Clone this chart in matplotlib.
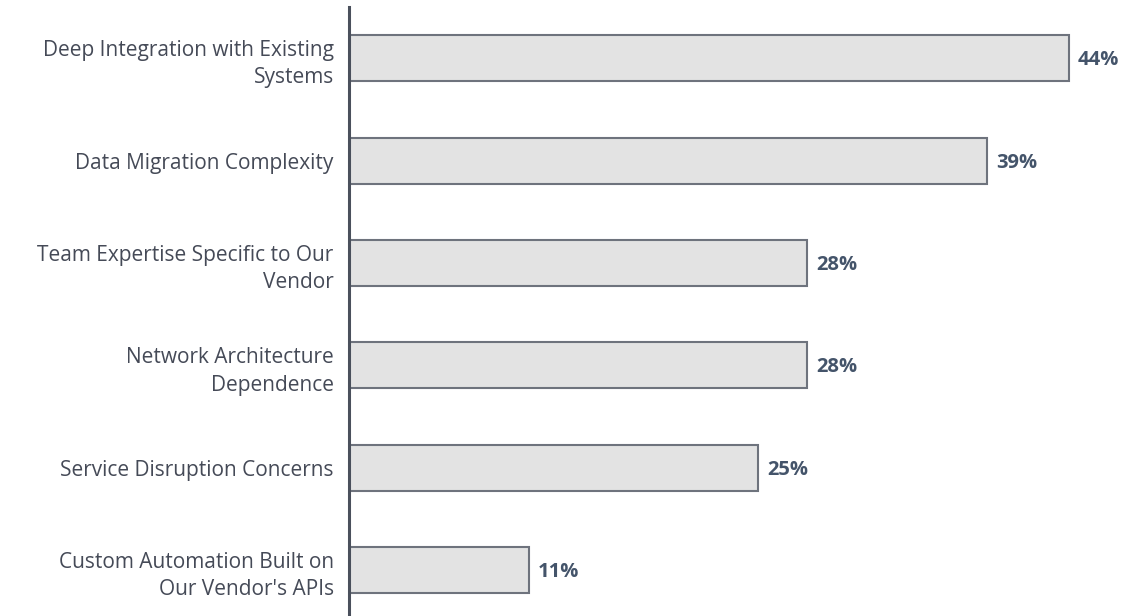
import matplotlib.pyplot as plt
import matplotlib.transforms as mtransforms

categories = [
    "Deep Integration with Existing\nSystems",
    "Data Migration Complexity",
    "Team Expertise Specific to Our\nVendor",
    "Network Architecture\nDependence",
    "Service Disruption Concerns",
    "Custom Automation Built on\nOur Vendor's APIs",
]
values = [44, 39, 28, 28, 25, 11]
value_labels = ["44%", "39%", "28%", "28%", "25%", "11%"]

plt.rcParams['font.family'] = ['Open Sans', 'DejaVu Sans']

fig = plt.figure(figsize=(11.22, 6.16), dpi=100)
ax = fig.add_axes([349/1122, -5.4/616, (1118-349)/1122, 614.4/616])

y = list(range(len(categories)))
ax.barh(y, values, height=0.45, color="#e3e3e3", edgecolor="#6e737d", linewidth=1.5, zorder=2)

for yi, v, lab in zip(y, values, value_labels):
    ax.annotate(lab, (v, yi), xytext=(6.5, -1.5), textcoords="offset points",
                va="center", ha="left", fontsize=14.5, fontweight="bold",
                color="#44546a")

ax.set_yticks(y)
ax.set_yticklabels(categories, fontsize=15, color="#454a57", linespacing=1.42)
# nudge category labels up slightly for optical centring against the bars
nudge = mtransforms.ScaledTranslation(0, 2.5 / 72, fig.dpi_scale_trans)
for t in ax.get_yticklabels():
    t.set_transform(t.get_transform() + nudge)
ax.tick_params(axis="y", length=0, pad=11)
ax.set_ylim(5.5, -0.5)
ax.set_xlim(0, 47)
ax.set_xticks([])
for s in ["top", "right", "bottom"]:
    ax.spines[s].set_visible(False)
ax.spines["left"].set_color("#4a505c")
ax.spines["left"].set_linewidth(2.2)

fig.savefig("out.png", dpi=100)
